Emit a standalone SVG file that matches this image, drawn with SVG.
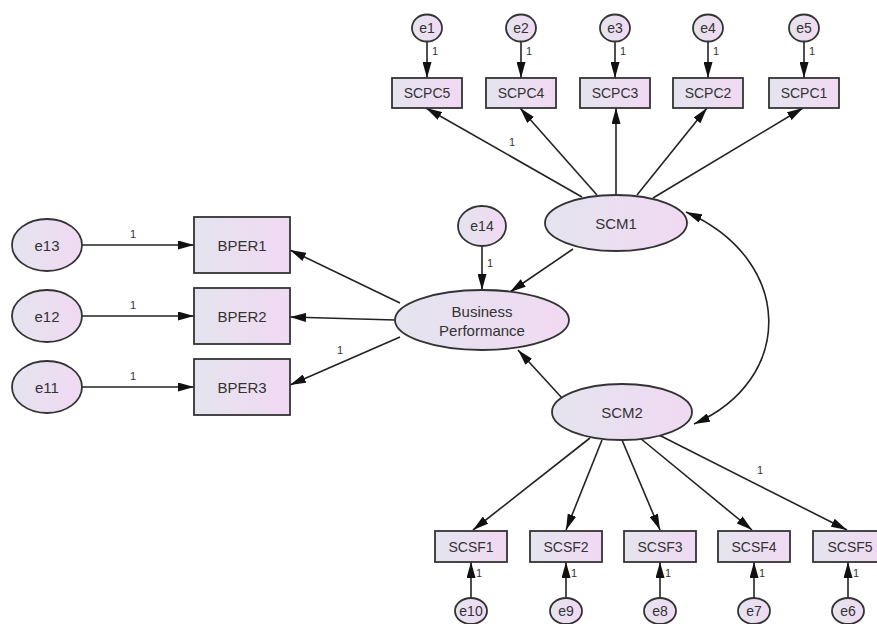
<svg xmlns="http://www.w3.org/2000/svg" width="877" height="624" viewBox="0 0 877 624">
<defs>
<linearGradient id="g" x1="0" y1="0" x2="1" y2="0">
<stop offset="0" stop-color="#e4e4ee"/>
<stop offset="1" stop-color="#f1d9f3"/>
</linearGradient>
<marker id="ah" viewBox="0 0 16 9" refX="16" refY="4.5" markerWidth="16" markerHeight="9" orient="auto-start-reverse" markerUnits="userSpaceOnUse">
<path d="M0,0 L16,4.5 L0,9 z" fill="#111"/>
</marker>
</defs>
<style>
.n{fill:url(#g);stroke:#333;stroke-width:1.8}
.t{font-family:"Liberation Sans",Arial,sans-serif;font-size:14px;fill:#333;text-anchor:middle;dominant-baseline:central}
.b{font-size:15px}
.c line,.c path{stroke:#222;stroke-width:1.6;fill:none;marker-end:url(#ah)}
.l{font-family:"Liberation Sans",Arial,sans-serif;font-size:11px;fill:#333;text-anchor:middle}
</style>
<rect width="877" height="624" fill="#fff"/>
<g class="c" id="connectors">
<line x1="427" y1="42" x2="427" y2="78"/>
<line x1="521" y1="42" x2="521" y2="78"/>
<line x1="615" y1="42" x2="615" y2="78"/>
<line x1="708" y1="42" x2="708" y2="78"/>
<line x1="804" y1="42" x2="804" y2="78"/>
<line x1="582" y1="197" x2="426" y2="108"/>
<line x1="597" y1="195" x2="520" y2="108"/>
<line x1="616" y1="195" x2="616" y2="108"/>
<line x1="637" y1="195" x2="707" y2="108"/>
<line x1="653" y1="198" x2="803" y2="108"/>
<line x1="82" y1="245" x2="194" y2="245"/>
<line x1="82" y1="316" x2="194" y2="316"/>
<line x1="82" y1="387" x2="194" y2="387"/>
<line x1="400" y1="303" x2="290" y2="250"/>
<line x1="395" y1="320" x2="290" y2="317"/>
<line x1="400" y1="337" x2="290" y2="385"/>
<line x1="482" y1="247" x2="482" y2="290"/>
<line x1="573" y1="249" x2="510" y2="292"/>
<line x1="562" y1="398" x2="518" y2="350"/>
<path d="M686,212 C795,260 795,380 694,424" style="marker-start:url(#ah)"/>
<line x1="590" y1="438" x2="473" y2="530"/>
<line x1="602" y1="440" x2="566" y2="530"/>
<line x1="622" y1="440" x2="660" y2="530"/>
<line x1="640" y1="438" x2="752" y2="530"/>
<line x1="655" y1="433" x2="847" y2="530"/>
<line x1="471" y1="598" x2="471" y2="562"/>
<line x1="566" y1="598" x2="566" y2="562"/>
<line x1="660" y1="598" x2="660" y2="562"/>
<line x1="754" y1="598" x2="754" y2="562"/>
<line x1="848" y1="598" x2="848" y2="562"/>
</g>
<g id="labels">
<text class="l" x="435" y="55">1</text>
<text class="l" x="529" y="55">1</text>
<text class="l" x="623" y="55">1</text>
<text class="l" x="716" y="55">1</text>
<text class="l" x="812" y="55">1</text>
<text class="l" x="512" y="146">1</text>
<text class="l" x="133" y="238">1</text>
<text class="l" x="133" y="309">1</text>
<text class="l" x="133" y="380">1</text>
<text class="l" x="340" y="354">1</text>
<text class="l" x="490" y="267">1</text>
<text class="l" x="760" y="474">1</text>
<text class="l" x="479" y="577">1</text>
<text class="l" x="574" y="577">1</text>
<text class="l" x="668" y="577">1</text>
<text class="l" x="762" y="577">1</text>
<text class="l" x="856" y="577">1</text>
</g>
<g id="e1"><ellipse class="n" cx="427" cy="28" rx="15" ry="13.5"/><text class="t" x="427" y="28">e1</text></g>
<g id="e2"><ellipse class="n" cx="521" cy="28" rx="15" ry="13.5"/><text class="t" x="521" y="28">e2</text></g>
<g id="e3"><ellipse class="n" cx="615" cy="28" rx="15" ry="13.5"/><text class="t" x="615" y="28">e3</text></g>
<g id="e4"><ellipse class="n" cx="708" cy="28" rx="15" ry="13.5"/><text class="t" x="708" y="28">e4</text></g>
<g id="e5"><ellipse class="n" cx="804" cy="28" rx="15" ry="13.5"/><text class="t" x="804" y="28">e5</text></g>
<g id="SCPC5"><rect class="n" x="392" y="78" width="70" height="30"/><text class="t" x="427" y="93">SCPC5</text></g>
<g id="SCPC4"><rect class="n" x="486" y="78" width="70" height="30"/><text class="t" x="521" y="93">SCPC4</text></g>
<g id="SCPC3"><rect class="n" x="580" y="78" width="70" height="30"/><text class="t" x="615" y="93">SCPC3</text></g>
<g id="SCPC2"><rect class="n" x="673" y="78" width="70" height="30"/><text class="t" x="708" y="93">SCPC2</text></g>
<g id="SCPC1"><rect class="n" x="769" y="78" width="70" height="30"/><text class="t" x="804" y="93">SCPC1</text></g>
<g id="SCM1"><ellipse class="n" cx="616" cy="223" rx="71" ry="28"/><text class="t b" x="616" y="223">SCM1</text></g>
<g id="SCM2"><ellipse class="n" cx="622" cy="412" rx="70" ry="28"/><text class="t b" x="622" y="412">SCM2</text></g>
<g id="e14"><ellipse class="n" cx="482" cy="226" rx="24" ry="20"/><text class="t" x="482" y="226">e14</text></g>
<g id="BP"><ellipse class="n" cx="482" cy="320" rx="87" ry="30"/><text class="t b" x="482" y="311">Business</text><text class="t b" x="482" y="330">Performance</text></g>
<g id="e13"><ellipse class="n" cx="47" cy="245" rx="35" ry="26"/><text class="t b" x="47" y="245">e13</text></g>
<g id="e12"><ellipse class="n" cx="47" cy="316" rx="35" ry="26"/><text class="t b" x="47" y="316">e12</text></g>
<g id="e11"><ellipse class="n" cx="47" cy="387" rx="35" ry="26"/><text class="t b" x="47" y="387">e11</text></g>
<g id="BPER1"><rect class="n" x="194" y="217" width="96" height="56"/><text class="t b" x="242" y="245">BPER1</text></g>
<g id="BPER2"><rect class="n" x="194" y="288" width="96" height="56"/><text class="t b" x="242" y="316">BPER2</text></g>
<g id="BPER3"><rect class="n" x="194" y="359" width="96" height="56"/><text class="t b" x="242" y="387">BPER3</text></g>
<g id="SCSF1"><rect class="n" x="435" y="531" width="72" height="31"/><text class="t" x="471" y="546.5">SCSF1</text></g>
<g id="SCSF2"><rect class="n" x="530" y="531" width="72" height="31"/><text class="t" x="566" y="546.5">SCSF2</text></g>
<g id="SCSF3"><rect class="n" x="624" y="531" width="72" height="31"/><text class="t" x="660" y="546.5">SCSF3</text></g>
<g id="SCSF4"><rect class="n" x="718" y="531" width="72" height="31"/><text class="t" x="754" y="546.5">SCSF4</text></g>
<g id="SCSF5"><rect class="n" x="813" y="531" width="72" height="31"/><text class="t" x="850" y="546.5">SCSF5</text></g>
<g id="e10"><ellipse class="n" cx="471" cy="611" rx="16" ry="13"/><text class="t" x="471" y="611">e10</text></g>
<g id="e9"><ellipse class="n" cx="566" cy="611" rx="16" ry="13"/><text class="t" x="566" y="611">e9</text></g>
<g id="e8"><ellipse class="n" cx="660" cy="611" rx="16" ry="13"/><text class="t" x="660" y="611">e8</text></g>
<g id="e7"><ellipse class="n" cx="754" cy="611" rx="16" ry="13"/><text class="t" x="754" y="611">e7</text></g>
<g id="e6"><ellipse class="n" cx="848" cy="611" rx="16" ry="13"/><text class="t" x="848" y="611">e6</text></g>
</svg>
